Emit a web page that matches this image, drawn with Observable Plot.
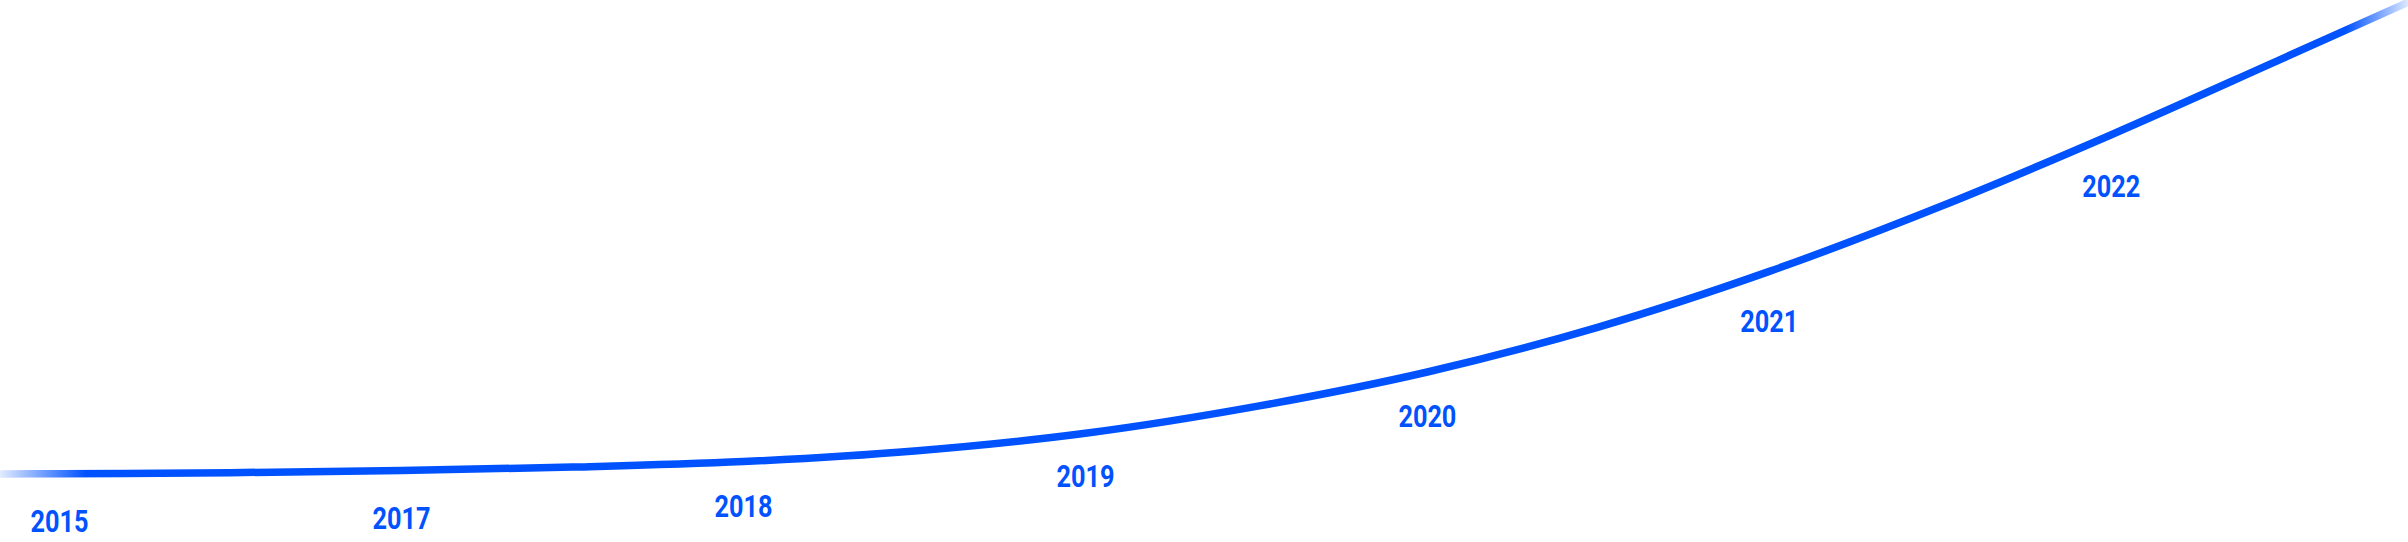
<!DOCTYPE html>
<html>
<head>
<meta charset="utf-8">
<script src="https://cdn.jsdelivr.net/npm/d3@7"></script>
<script src="https://cdn.jsdelivr.net/npm/@observablehq/plot@0.6"></script>
<style>
  html, body { margin: 0; padding: 0; background: #ffffff; }
  #chart svg { display: block; }
</style>
</head>
<body>
<div id="chart"></div>
<script>
// Curve: position along the timeline (1 unit = one label slot) and growth value
const curvePos = [-0.17, 0, 0.5, 1, 1.5, 2, 2.5, 3, 3.5, 4, 4.5, 5, 5.5, 6, 6.5, 6.86];
const curveVal = [68.5, 68.8, 69.8, 72, 75.4, 80.9, 91.5, 109.2, 136.1, 170.5, 215.4, 271.1, 336, 407.8, 483.9, 539];

// Year labels (2016 not shown in the original)
const years = ["2015", "2017", "2018", "2019", "2020", "2021", "2022"];
const yearPos = [0, 1, 2, 3, 4, 5, 6];
const yearVal = [11, 14, 26, 56, 116, 211, 346];

const BLUE = "#0052ff";
const W = 2408, H = 542;

const curve = curvePos.map((p, i) => ({pos: p, val: curveVal[i]}));
const labels = years.map((y, i) => ({year: y, pos: yearPos[i], val: yearVal[i]}));

const chart = Plot.plot({
  width: W,
  height: H,
  margin: 0,
  axis: null,
  x: {domain: [-0.1725, 6.869], range: [0, W]},
  y: {domain: [0, H], range: [H, 0]},
  style: {background: "#ffffff"},
  marks: [
    Plot.line(curve, {
      x: "pos", y: "val",
      curve: "monotone-x",
      stroke: "url(#fadeGrad)",
      strokeWidth: 7.5,
      strokeLinecap: "round",
      strokeLinejoin: "round"
    }),
    Plot.text(labels, {
      x: "pos", y: "val", text: "year",
      fill: BLUE,
      fontSize: 31,
      fontWeight: "bold",
      fontFamily: "Roboto, 'Noto Sans', sans-serif",
      textAnchor: "middle",
      lineAnchor: "bottom"
    })
  ]
});

// gradient that fades the stroke at both ends
const svg = d3.select(chart);
const defs = svg.insert("defs", ":first-child");
const g = defs.append("linearGradient")
  .attr("id", "fadeGrad")
  .attr("gradientUnits", "userSpaceOnUse")
  .attr("x1", 0).attr("y1", 0).attr("x2", W).attr("y2", 0);
[[0, 0.12], [85 / W, 1], [2345 / W, 1], [1, 0.12]].forEach(([o, a]) => {
  g.append("stop").attr("offset", o).attr("stop-color", BLUE).attr("stop-opacity", a);
});

// condensed look of the original numerals
svg.selectAll("text")
  .attr("textLength", 58)
  .attr("lengthAdjust", "spacingAndGlyphs");

document.getElementById("chart").appendChild(chart);
</script>
</body>
</html>
